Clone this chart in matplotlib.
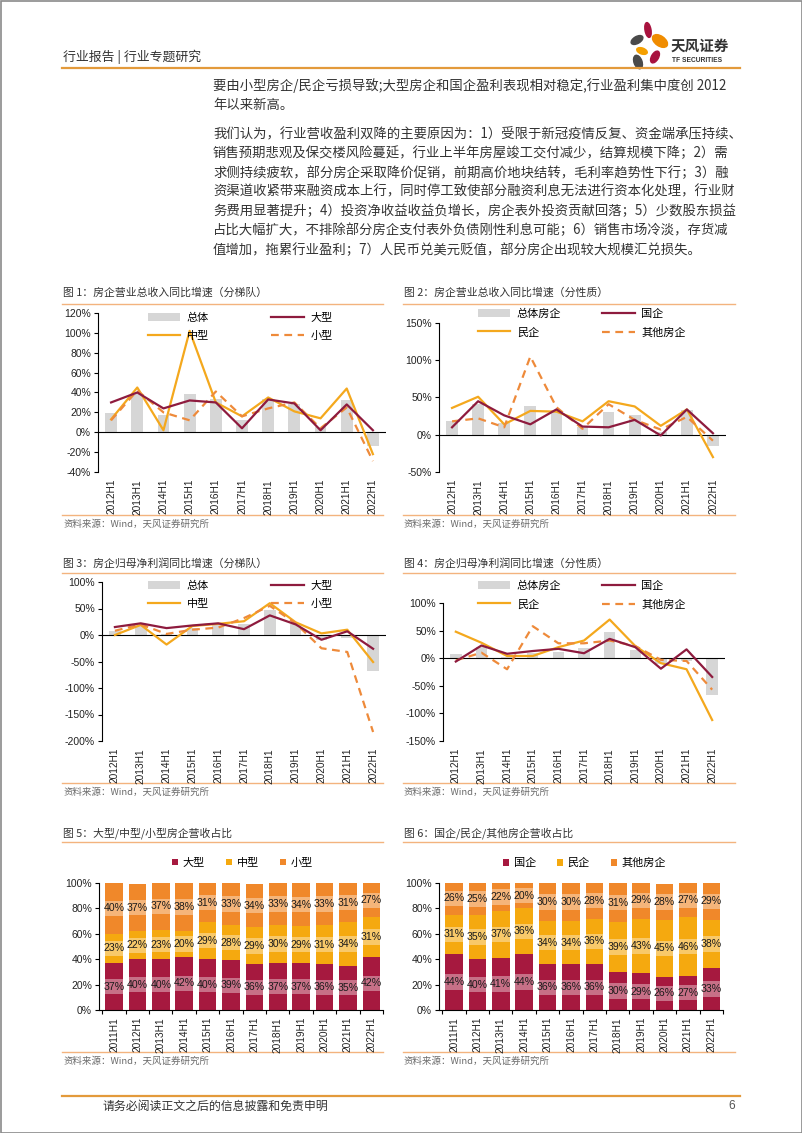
import numpy as np
import matplotlib
matplotlib.use("Agg")
from matplotlib import pyplot as plt
from matplotlib.patches import Ellipse, Rectangle

plt.rcParams['font.family'] = ['Noto Sans CJK SC', 'DejaVu Sans']
NUM_FONT = ['Liberation Sans', 'Noto Sans CJK SC']

W, H = 802, 1133

# ---- data ----
years_a = ['2012H1', '2013H1', '2014H1', '2015H1', '2016H1', '2017H1',
           '2018H1', '2019H1', '2020H1', '2021H1', '2022H1']
years_b = ['2011H1'] + years_a

# 图1 营业总收入同比（分梯队）
rev_total = [19, 38, 17, 38, 33, 12, 33, 28, 5, 32, -14]
rev_large = [30, 40, 24, 32, 30, 4, 33, 29, 2, 28, 2]
rev_mid = [13, 45, 2, 102, 30, 16, 35, 21, 14, 44, -22]
rev_small = [12, 42, 20, 12, 41, 16, 24, 30, 4, 25, -29]

# 图2 营业总收入同比（分性质）
rev2_total = [19, 41, 16, 38, 33, 11, 30, 26, 4, 33, -15]
rev2_soe = [10, 45, 26, 14, 34, 11, 10, 20, -1, 34, 2]
rev2_private = [36, 51, 14, 32, 31, 18, 45, 38, 12, 34, -30]
rev2_other = [18, 22, 10, 105, 37, 8, 41, 20, 7, 24, -8]

# 图3 归母净利润同比（分梯队）
np_total = [8, 18, 2, 13, 20, 20, 48, 20, -10, -5, -67]
np_large = [15, 22, 13, 18, 22, 11, 37, 20, -9, 7, -26]
np_mid = [0, 19, -18, 17, 21, 26, 60, 24, 3, 10, -51]
np_small = [8, 20, 2, 10, 14, 32, 55, 22, -25, -32, -183]

# 图4 归母净利润同比（分性质）
np2_total = [8, 20, 3, 10, 12, 18, 47, 15, -10, -5, -67]
np2_soe = [-6, 23, 8, 13, 17, 9, 35, 20, -19, 16, -34]
np2_private = [48, 28, 4, 4, 20, 32, 70, 22, -9, -20, -112]
np2_other = [-4, 10, -20, 58, 27, 27, 32, 22, -3, -5, -57]

# 图5 / 图6 营收占比
share_large = [37, 40, 40, 42, 40, 39, 36, 37, 37, 36, 35, 42]
share_mid = [23, 22, 23, 20, 29, 28, 29, 30, 29, 31, 34, 31]
share_small = [40, 37, 37, 38, 31, 33, 34, 33, 34, 33, 31, 27]
share_soe = [44, 40, 41, 44, 36, 36, 36, 30, 29, 26, 27, 33]
share_private = [31, 35, 37, 36, 34, 34, 36, 39, 43, 45, 46, 38]
share_other = [26, 25, 22, 20, 30, 30, 28, 31, 29, 28, 27, 29]

para1 = [
    "要由小型房企/民企亏损导致;大型房企和国企盈利表现相对稳定,行业盈利集中度创 2012",
    "年以来新高。",
]
para2 = [
    "我们认为，行业营收盈利双降的主要原因为：1）受限于新冠疫情反复、资金端承压持续、",
    "销售预期悲观及保交楼风险蔓延，行业上半年房屋竣工交付减少，结算规模下降；2）需",
    "求侧持续疲软，部分房企采取降价促销，前期高价地块结转，毛利率趋势性下行；3）融",
    "资渠道收紧带来融资成本上行，同时停工致使部分融资利息无法进行资本化处理，行业财",
    "务费用显著提升；4）投资净收益收益负增长，房企表外投资贡献回落；5）少数股东损益",
    "占比大幅扩大，不排除部分房企支付表外负债刚性利息可能；6）销售市场冷淡，存货减",
    "值增加，拖累行业盈利；7）人民币兑美元贬值，部分房企出现较大规模汇兑损失。",
]

# ---- colours ----
GRAY = '#D6D6D6'
RED = '#8E1B3E'
GOLD = '#F4A81D'
ORANGE = '#EE8A3A'
S_RED = '#A6193F'
S_GOLD = '#F5A90F'
S_ORANGE = '#F0882A'
TXT = '#333333'
RULE = '#F3B37E'

fig = plt.figure(figsize=(W / 100, H / 100), dpi=100)
pg = fig.add_axes([0, 0, 1, 1])
pg.set_xlim(0, W)
pg.set_ylim(H, 0)
pg.axis('off')


def rect(l, t, r, b):
    return [l / W, 1 - b / H, (r - l) / W, (b - t) / H]


# page frame, header, footer
pg.add_patch(Rectangle((0.5, 0.5), W - 1, H - 1, fill=False, ec='#8A8A8A', lw=1.2))
pg.text(63, 57, "行业报告 | 行业专题研究", fontsize=9.3, color=TXT, va='center')
pg.plot([62, 740], [68, 68], color='#E39A3B', lw=1.6)
pg.plot([62, 740], [1096, 1096], color='#E39A3B', lw=1.6)
pg.text(103, 1106, "请务必阅读正文之后的信息披露和免责申明", fontsize=8.6, color=TXT, va='center')
pg.text(735, 1106, "6", fontsize=8.6, color='#555555', va='center', ha='right',
        family=NUM_FONT)

# logo
petals = [((648, 30), 6, 15, -10, '#A8123E'),
          ((637, 40), 13, 7, -30, '#4A4A4A'),
          ((660, 41), 17, 10, 35, '#F08C00'),
          ((642, 51), 11, 6, 20, '#F5A000'),
          ((655, 57), 7, 13, 30, '#A8123E'),
          ((638, 62), 8, 14, -20, '#4A4A4A')]
for c, w, h, a, col in petals:
    pg.add_patch(Ellipse(c, w, h, angle=a, color=col))
pg.text(671, 46, "天风证券", fontsize=10.5, fontweight='bold', color=TXT, va='center')
pg.text(672, 60, "TF SECURITIES", fontsize=4.8, fontweight='bold', color=TXT, va='center',
        family=NUM_FONT)

# body text
for i, s in enumerate(para1):
    pg.text(213, 86 + i * 19.5, s, fontsize=9.6, color=TXT, va='center')
for i, s in enumerate(para2):
    pg.text(213, 134 + i * 19.3, s, fontsize=9.6, color=TXT, va='center')


def frame(x0, x1, t_title, t_rule, t_bot, title):
    pg.text(x0 + 1, t_title, title, fontsize=7.8, color=TXT, va='center')
    pg.plot([x0, x1], [t_rule, t_rule], color=RULE, lw=1.0)
    pg.plot([x0, x1], [t_bot, t_bot], color=RULE, lw=1.0)
    pg.text(x0 + 1, t_bot + 9, "资料来源：Wind，天风证券研究所", fontsize=6.8,
            color='#6A6A6A', va='center')


def style_axis(ax, yticks):
    ax.set_facecolor('none')
    for s in ['top', 'right', 'bottom']:
        ax.spines[s].set_visible(False)
    ax.spines['left'].set_linewidth(0.8)
    ax.set_yticks(yticks)
    ax.set_yticklabels([f"{v}%" for v in yticks], family=NUM_FONT, fontsize=7.5, color='#222222')
    ax.tick_params(axis='y', length=3, width=0.8, pad=2)


def line_chart(box, ylim, yticks, total, solid_a, solid_b, dashed, names, leg_x, leg_y, colsp):
    ax = fig.add_axes(rect(*box))
    style_axis(ax, yticks)
    x = np.arange(len(years_a))
    ax.set_xlim(-0.5, len(years_a) - 0.5)
    ax.set_ylim(*ylim)
    h_tot = ax.bar(x, total, width=0.45, color=GRAY, zorder=1, label=names[0])
    ax.axhline(0, color='black', lw=0.8, zorder=2)
    h_a, = ax.plot(x, solid_a, color=RED, lw=1.6, zorder=4, label=names[1])
    h_b, = ax.plot(x, solid_b, color=GOLD, lw=1.6, zorder=3, label=names[2])
    h_c, = ax.plot(x, dashed, color=ORANGE, lw=1.6, ls=(0, (3.5, 2.5)), zorder=3, label=names[3])
    ax.set_xticks(x)
    ax.set_xticklabels(years_a, rotation=90, family=NUM_FONT, fontsize=7.3, color='#222222')
    ax.tick_params(axis='x', length=0, pad=5)
    ax.legend([h_tot, h_b, h_a, h_c], [names[0], names[2], names[1], names[3]],
              ncol=2, frameon=False, loc='center left',
              bbox_to_anchor=(leg_x / W, 1 - leg_y / H), bbox_transform=fig.transFigure,
              fontsize=8, handlelength=2.9, handletextpad=0.6, columnspacing=colsp,
              labelspacing=0.75, borderpad=0, borderaxespad=0)
    return ax


def stack_chart(box, parts, names, leg_x):
    ax = fig.add_axes(rect(*box))
    style_axis(ax, [0, 20, 40, 60, 80, 100])
    ax.spines['bottom'].set_visible(True)
    ax.spines['bottom'].set_linewidth(0.8)
    x = np.arange(len(years_b))
    ax.set_xlim(-0.64, len(years_b) - 0.6)
    ax.set_ylim(0, 100)
    bottom = np.zeros(len(years_b))
    handles = []
    for vals, col, nm in zip(parts, [S_RED, S_GOLD, S_ORANGE], names):
        vals = np.array(vals, dtype=float)
        h = ax.bar(x, vals, bottom=bottom, width=0.75, color=col, label=nm, zorder=1)
        handles.append(h)
        for xi, b, v in zip(x, bottom, vals):
            ax.text(xi, b + v / 2, f"{int(v)}%", ha='center', va='center', fontsize=7.6,
                    family=NUM_FONT, color='#1A1A1A', zorder=3,
                    bbox=dict(boxstyle='square,pad=0.25', fc='white', ec='none', alpha=0.38))
        bottom += vals
    ax.set_xticks(x)
    ax.set_xticklabels(years_b, rotation=90, family=NUM_FONT, fontsize=7.3, color='#222222')
    ax.tick_params(axis='x', length=0, pad=5)
    ax.set_xticks(np.arange(len(years_b) + 1) - 0.5, minor=True)
    ax.tick_params(axis='x', which='minor', length=3, width=0.8)
    ax.legend(handles, names, ncol=3, frameon=False, loc='center left',
              bbox_to_anchor=(leg_x / W, 1 - 863 / H), bbox_transform=fig.transFigure,
              fontsize=8, handlelength=0.55, handleheight=0.55, handletextpad=0.4,
              columnspacing=1.9, borderpad=0, borderaxespad=0)
    return ax


# row 1
frame(62, 383, 293, 304, 515, "图 1：房企营业总收入同比增速（分梯队）")
frame(403, 735, 293, 304, 515, "图 2：房企营业总收入同比增速（分性质）")
line_chart((98, 313, 386, 472), (-40, 120), list(range(-40, 121, 20)),
           rev_total, rev_large, rev_mid, rev_small, ["总体", "大型", "中型", "小型"],
           148, 327, 5.6)
line_chart((439, 323, 726, 472), (-50, 150), list(range(-50, 151, 50)),
           rev2_total, rev2_soe, rev2_private, rev2_other, ["总体房企", "国企", "民企", "其他房企"],
           478, 323, 3.7)

# row 2
frame(62, 383, 563, 573, 783, "图 3：房企归母净利润同比增速（分梯队）")
frame(403, 735, 563, 573, 783, "图 4：房企归母净利润同比增速（分性质）")
line_chart((102, 582, 386, 741), (-200, 100), list(range(-200, 101, 50)),
           np_total, np_large, np_mid, np_small, ["总体", "大型", "中型", "小型"],
           148, 595, 5.6)
line_chart((443, 603, 725, 741), (-150, 100), list(range(-150, 101, 50)),
           np2_total, np2_soe, np2_private, np2_other, ["总体房企", "国企", "民企", "其他房企"],
           478, 595, 3.7)

# row 3
frame(62, 383, 833, 842, 1052, "图 5：大型/中型/小型房企营收占比")
frame(403, 735, 833, 842, 1052, "图 6：国企/民企/其他房企营收占比")
stack_chart((99, 883, 383, 1010), [share_large, share_mid, share_small],
            ["大型", "中型", "小型"], 172)
stack_chart((439, 883, 723, 1010), [share_soe, share_private, share_other],
            ["国企", "民企", "其他房企"], 503)

fig.savefig("out.png", dpi=100)
